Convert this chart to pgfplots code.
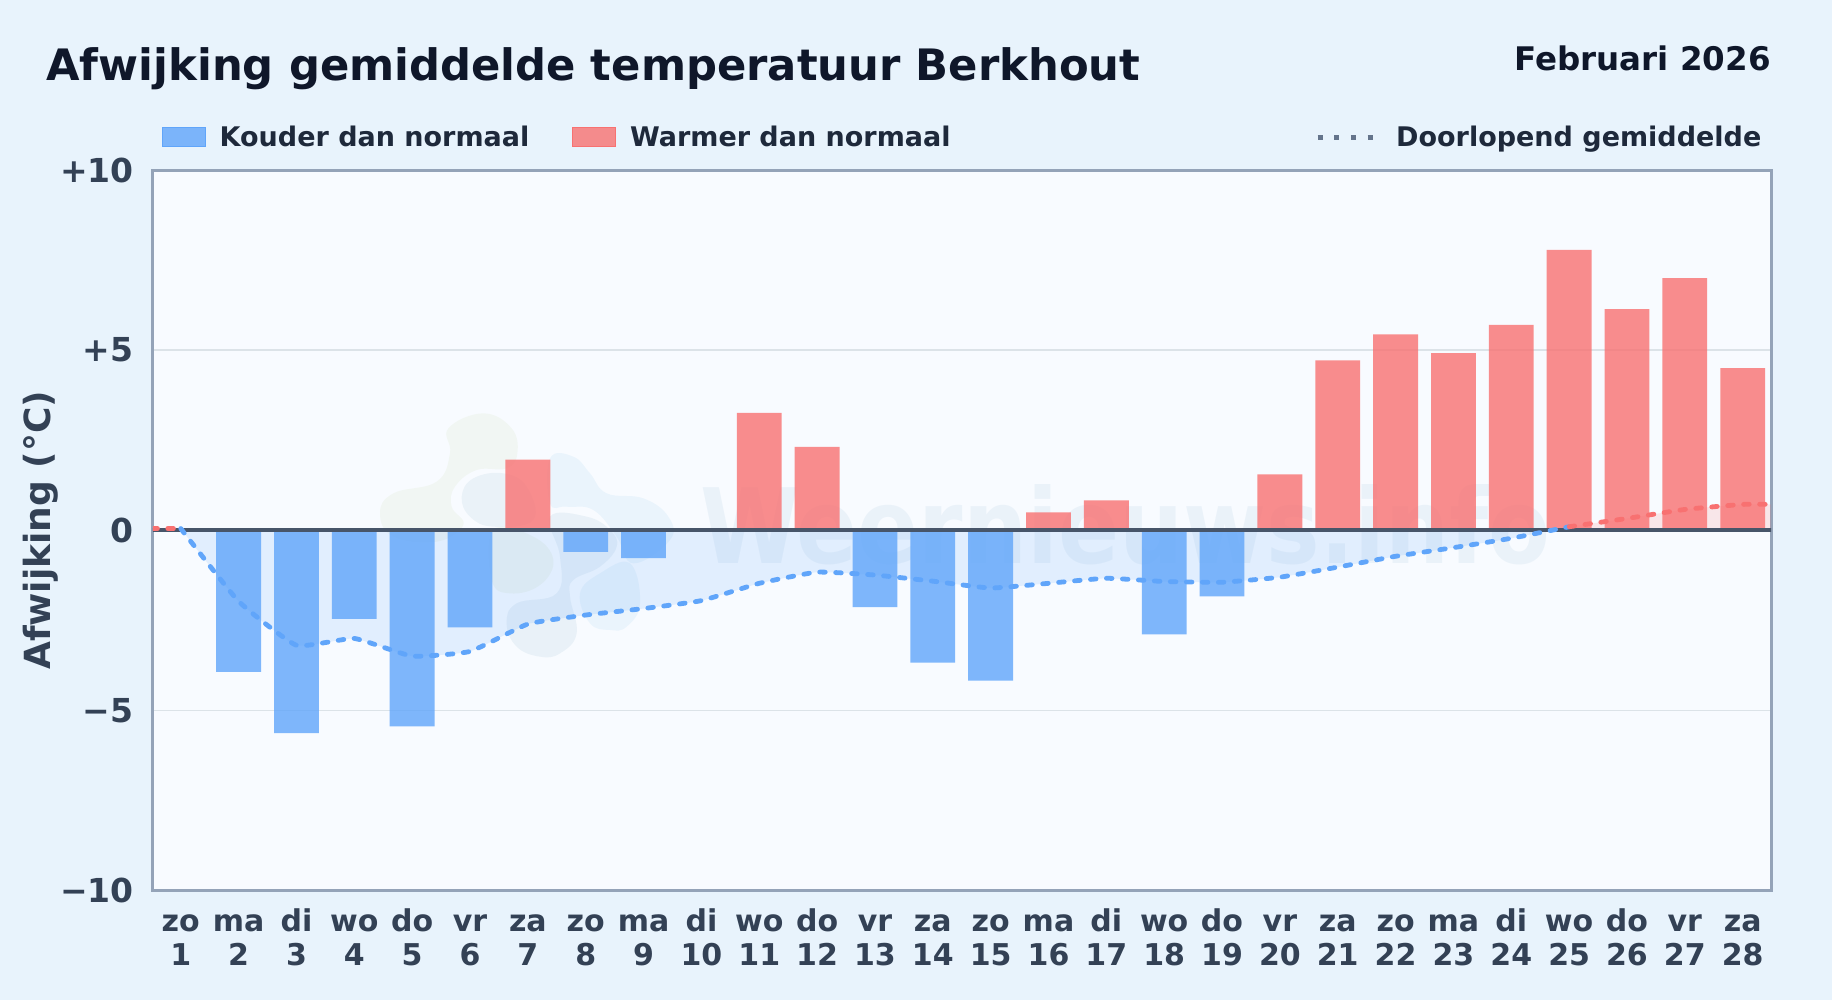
\documentclass[border=0pt]{standalone}
\usepackage{fontspec}
\setmainfont{DejaVu Sans}
\usepackage{pgfplots}
\pgfplotsset{compat=1.18}

\definecolor{pagebg}{HTML}{E8F3FC}
\definecolor{plotbg}{HTML}{F8FBFF}
\definecolor{koud}{HTML}{60A5FA}
\definecolor{warm}{HTML}{F87171}
\definecolor{titel}{HTML}{0F172A}
\definecolor{legtext}{HTML}{1E293B}
\definecolor{ticktext}{HTML}{334155}
\definecolor{rand}{HTML}{94A3B8}
\definecolor{raster}{HTML}{DCE3E8}
\definecolor{nullijn}{HTML}{475569}
\definecolor{gemleg}{HTML}{64748B}
\definecolor{blobgroen}{HTML}{9CC05A}
\definecolor{blobgrijs}{HTML}{3B7FA6}
\definecolor{blobblauw}{HTML}{38A0E0}
\definecolor{wmtekst}{HTML}{3B82B6}

\newcommand{\dg}[2]{\vphantom{d}#1\\#2}

\pgfplotstableread{
dag waarde
2 -3.93
3 -5.63
4 -2.46
5 -5.44
6 -2.69
8 -0.60
9 -0.77
13 -2.13
14 -3.67
15 -4.17
18 -2.89
19 -1.83
}\koudtabel

\pgfplotstableread{
dag waarde
7 1.96
11 3.26
12 2.32
16 0.50
17 0.83
20 1.55
21 4.72
22 5.44
23 4.92
24 5.70
25 7.78
26 6.14
27 7.00
28 4.50
}\warmtabel

\pgfplotstableread{
dag gem
1 0.05
2 -1.97
3 -3.19
4 -3.00
5 -3.49
6 -3.36
7 -2.60
8 -2.35
9 -2.17
10 -1.95
11 -1.47
12 -1.16
13 -1.24
14 -1.41
15 -1.60
16 -1.47
17 -1.33
18 -1.42
19 -1.44
20 -1.30
21 -1.02
22 -0.72
23 -0.48
24 -0.22
25 0.10
}\gemkoud

\pgfplotstableread{
dag gem
25 0.10
26 0.33
27 0.58
28 0.72
28.5 0.72
}\gemwarm

\begin{document}
\begin{tikzpicture}[x=0.5pt,y=-0.5pt]
% page and plot background, watermark underneath the axis
\fill[pagebg] (0,0) rectangle (1832,1000);
\fill[plotbg] (153,170) rectangle (1771,890.7);

\begin{scope}[shift={(360,390)},x=0.16667pt,y=-0.16667pt]
  \fill[blobgroen,opacity=0.07] plot[smooth cycle,tension=0.7] coordinates {
    (60,370) (100,310) (230,275) (270,190) (265,115) (370,70) (455,115) (472,190)
    (440,235) (350,240) (285,290) (275,350) (310,405) (230,455) (100,440)};
  \fill[blobgroen,opacity=0.08] plot[smooth cycle,tension=0.7] coordinates {
    (400,420) (520,440) (580,510) (540,585) (450,610) (395,570)};
  \fill[blobgrijs,opacity=0.07] plot[smooth cycle,tension=0.7] coordinates {
    (305,320) (340,265) (430,250) (500,290) (520,390) (400,410) (330,380)};
  \fill[blobblauw,opacity=0.07] plot[smooth cycle,tension=0.7] coordinates {
    (570,205) (640,200) (690,250) (740,310) (850,325) (925,380) (930,450) (820,520)
    (770,440) (700,360) (620,350) (570,340)};
  \fill[blobgrijs,opacity=0.08] plot[smooth cycle,tension=0.7] coordinates {
    (570,380) (680,380) (750,420) (770,470) (720,530) (640,570) (630,620)
    (650,730) (600,790) (540,800) (470,770) (440,700) (470,640) (590,610) (600,500)};
  \fill[blobblauw,opacity=0.07] plot[smooth cycle,tension=0.7] coordinates {
    (660,610) (720,550) (810,520) (840,640) (800,710) (750,720) (690,700)};
\end{scope}
\node[anchor=base west,inner sep=0pt,text=wmtekst,opacity=0.07,xscale=0.866,
  font=\fontsize{52}{52}\selectfont\bfseries] at (700,563) {Weernieuws.info};

\begin{axis}[
  at={(76.5pt,-445.35pt)},
  anchor=south west,
  scale only axis,
  width=809pt,
  height=360.35pt,
  xmin=0.52, xmax=28.49,
  ymin=-10, ymax=10,
  axis line style={rand,line width=1.5pt},
  ymajorgrids=true,
  grid style={raster,line width=0.9pt},
  major tick length=0pt,
  xtick={1,...,28},
  xticklabels={{\dg{zo}{1}},{\dg{ma}{2}},{\dg{di}{3}},{\dg{wo}{4}},{\dg{do}{5}},{\dg{vr}{6}},{\dg{za}{7}},{\dg{zo}{8}},{\dg{ma}{9}},{\dg{di}{10}},{\dg{wo}{11}},{\dg{do}{12}},{\dg{vr}{13}},{\dg{za}{14}},{\dg{zo}{15}},{\dg{ma}{16}},{\dg{di}{17}},{\dg{wo}{18}},{\dg{do}{19}},{\dg{vr}{20}},{\dg{za}{21}},{\dg{zo}{22}},{\dg{ma}{23}},{\dg{di}{24}},{\dg{wo}{25}},{\dg{do}{26}},{\dg{vr}{27}},{\dg{za}{28}}},
  x tick label style={align=center,text=ticktext,inner sep=0pt,yshift=-9pt,
    font=\fontsize{15}{17}\selectfont\bfseries},
  ytick={-10,-5,0,5,10},
  yticklabels={−10,−5,0,+5,+10},
  y tick label style={text=ticktext,inner sep=0pt,xshift=-9.5pt,
    font=\fontsize{16.5}{18}\selectfont\bfseries},
  every axis y label/.style={at={(axis description cs:-0.0695,0.5)},anchor=center,rotate=90},
  ylabel={Afwijking (°C)},
  ylabel style={text=ticktext,font=\fontsize{18}{18}\selectfont\bfseries},
  legend columns=3,
  legend cell align=left,
  legend style={
    at={(axis description cs:0.0056,1.0)},anchor=south west,yshift=10.5pt,
    draw=none,fill=none,inner sep=0pt,outer sep=0pt,
    text=legtext,font=\fontsize{13.5}{13.5}\selectfont\bfseries,
    nodes={inner sep=0pt},
    /tikz/column 1/.style={column sep=7pt},
    /tikz/column 2/.style={column sep=21.5pt},
    /tikz/column 3/.style={column sep=7pt},
    /tikz/column 4/.style={column sep=182.3pt},
    /tikz/column 5/.style={column sep=10pt},
  },
]
\addlegendimage{legend image code/.code={\fill[koud,fill opacity=0.8] (0,-4.75pt) rectangle (22pt,4.75pt);}}
\addlegendentry{Kouder dan normaal}
\addlegendimage{legend image code/.code={\fill[warm,fill opacity=0.8] (0,-4.75pt) rectangle (22pt,4.75pt);}}
\addlegendentry{Warmer dan normaal}
\addlegendimage{legend image code/.code={\draw[gemleg,line width=2.5pt,dash pattern=on 2.5pt off 5.8pt] (0,0) -- (28pt,0);}}
\addlegendentry{Doorlopend gemiddelde}

% area between the running mean and zero
\addplot[draw=none,fill=koud,fill opacity=0.15,smooth,tension=0.25,forget plot] table[x=dag,y=gem] {\gemkoud} \closedcycle;
\addplot[draw=none,fill=warm,fill opacity=0.15,smooth,tension=0.25,forget plot] table[x=dag,y=gem] {\gemwarm} \closedcycle;

% day bars
\addplot[ybar,bar shift=0pt,bar width=0.775,draw=none,fill=koud,fill opacity=0.8,forget plot] table[x=dag,y=waarde] {\koudtabel};
\addplot[ybar,bar shift=0pt,bar width=0.775,draw=none,fill=warm,fill opacity=0.8,forget plot] table[x=dag,y=waarde] {\warmtabel};

% zero line
\addplot[nullijn,line width=2pt,forget plot] coordinates {(0.5,0) (28.5,0)};

% running mean
\addplot[warm,line width=2.4pt,line cap=round,dash pattern=on 2.8pt off 5.2pt,forget plot] coordinates {(0.5,0.05) (1,0.05)};
\addplot[koud,line width=2.4pt,line cap=round,dash pattern=on 2.8pt off 5.2pt,smooth,tension=0.25,forget plot] table[x=dag,y=gem] {\gemkoud};
\addplot[warm,line width=2.4pt,line cap=round,dash pattern=on 2.8pt off 5.2pt,smooth,tension=0.25,forget plot] table[x=dag,y=gem] {\gemwarm};
\end{axis}

\node[anchor=base west,inner sep=0pt,text=titel,font=\fontsize{21.65}{22}\selectfont\bfseries] at (46,81) {Afwijking gemiddelde temperatuur Berkhout};
\node[anchor=base east,inner sep=0pt,text=titel,font=\fontsize{16.25}{16.25}\selectfont\bfseries] at (1771,71) {Februari 2026};
\end{tikzpicture}
\end{document}
